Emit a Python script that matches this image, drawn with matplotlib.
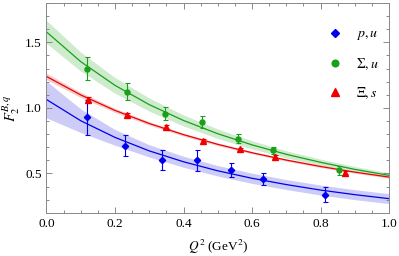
import matplotlib
matplotlib.use("Agg")
import matplotlib.pyplot as plt
from matplotlib.lines import Line2D
from matplotlib.ticker import MultipleLocator
import numpy as np

plt.rcParams["font.family"] = ["Liberation Serif", "DejaVu Serif"]
plt.rcParams["mathtext.fontset"] = "stix"

# --- lattice points (Q^2, value, error) ---
p_q2 = [0.119, 0.230, 0.337, 0.440, 0.538, 0.633, 0.814]
p_val = [0.928, 0.710, 0.600, 0.600, 0.525, 0.455, 0.338]
p_err = [0.135, 0.080, 0.075, 0.080, 0.053, 0.045, 0.055]

sig_q2 = [0.119, 0.234, 0.347, 0.453, 0.558, 0.660, 0.854]
sig_val = [1.300, 1.123, 0.956, 0.895, 0.766, 0.677, 0.523]
sig_err = [0.087, 0.065, 0.050, 0.047, 0.032, 0.028, 0.032]

xi_q2 = [0.120, 0.236, 0.349, 0.458, 0.565, 0.668, 0.872]
xi_val = [1.062, 0.948, 0.854, 0.748, 0.685, 0.628, 0.505]
xi_err = [0.020, 0.015, 0.015, 0.012, 0.010, 0.010, 0.010]

# --- fit curves and bands, read at Q^2 = 0, 0.1, ..., 1.0 ---
fit_q2 = [0.0, 0.1, 0.2, 0.3, 0.4, 0.5, 0.6, 0.7, 0.8, 0.9, 1.0]
p_fit = [1.064, 0.902, 0.775, 0.672, 0.589, 0.520, 0.463, 0.415, 0.373, 0.338, 0.3075]
p_band = [0.140, 0.090, 0.060, 0.047, 0.042, 0.040, 0.039, 0.038, 0.038, 0.038, 0.038]
sig_fit = [1.580, 1.353, 1.172, 1.025, 0.904, 0.803, 0.718, 0.646, 0.585, 0.531, 0.485]
sig_band = [0.088, 0.072, 0.060, 0.050, 0.042, 0.036, 0.031, 0.027, 0.024, 0.022, 0.020]
xi_fit = [1.240, 1.099, 0.981, 0.881, 0.796, 0.722, 0.658, 0.602, 0.553, 0.510, 0.472]
xi_band = [0.025, 0.020, 0.016, 0.013, 0.011, 0.010, 0.009, 0.009, 0.008, 0.008, 0.008]

labels = [r"$p,u$", r"$\Sigma,u$", r"$\Xi,s$"]

fig = plt.figure(figsize=(3.99, 2.56), dpi=100)
ax = fig.add_axes([0.1165, 0.169, 0.8585, 0.819])

series = [
    (p_q2, p_val, p_err, p_fit, p_band, "#0000ee", "#c4c4f6", "D", 3.2),
    (sig_q2, sig_val, sig_err, sig_fit, sig_band, "#18a018", "#c6e8c6", "o", 3.6),
    (xi_q2, xi_val, xi_err, xi_fit, xi_band, "#ee0000", "#f6c4c4", "^", 4.0),
]
for q2, val, err, fit, band, col, bcol, mk, ms in series:
    f = np.array(fit); b = np.array(band)
    ax.fill_between(fit_q2, f - b, f + b, color=bcol, lw=0, alpha=0.85)
    ax.plot(fit_q2, fit, color=col, lw=0.9)
    ax.errorbar(q2, val, yerr=err, fmt=mk, color=col, ms=ms, elinewidth=0.8,
                capsize=1.8, capthick=0.8)

handles = [Line2D([], [], ls="", marker=s[7], color=s[5], ms=s[8] + 1.2) for s in series]
ax.legend(handles, labels, loc="upper right", bbox_to_anchor=(0.985, 0.91),
          frameon=False, fontsize=10, labelspacing=1.0, handlelength=1.0,
          handletextpad=1.0, borderaxespad=0)

ax.set_xlim(0, 1.0)
ax.set_ylim(0.2, 1.8)
ax.xaxis.set_major_locator(MultipleLocator(0.2))
ax.xaxis.set_minor_locator(MultipleLocator(0.05))
ax.yaxis.set_major_locator(MultipleLocator(0.5))
ax.yaxis.set_minor_locator(MultipleLocator(0.1))
ax.xaxis.set_major_formatter(matplotlib.ticker.FormatStrFormatter("%.1f"))
ax.yaxis.set_major_formatter(matplotlib.ticker.FormatStrFormatter("%.1f"))
ax.tick_params(which="both", direction="in", top=True, right=True,
               colors="#777777", labelcolor="black", labelsize=9.5, width=0.6)
ax.tick_params(which="major", length=4)
ax.tick_params(which="minor", length=2)
for sp in ax.spines.values():
    sp.set_color("#888888")
    sp.set_linewidth(0.7)

ax.set_xlabel(r"$Q^2$ (GeV$^2$)", fontsize=9.5, labelpad=6)
ax.set_ylabel(r"$F_2^{B,q}$", fontsize=10.5, labelpad=2)

fig.savefig("out.png", dpi=100)
